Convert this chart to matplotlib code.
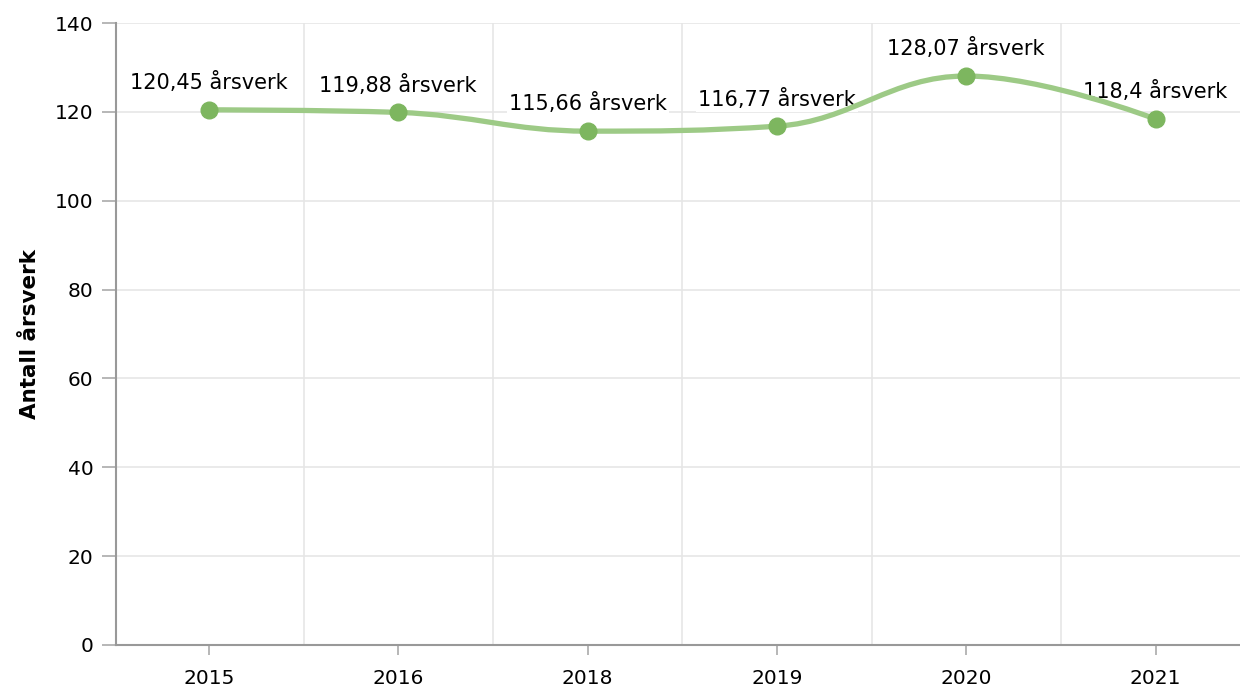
import numpy as np
import matplotlib
matplotlib.use("Agg")
import matplotlib.pyplot as plt
from matplotlib.path import Path
from matplotlib.patches import PathPatch

years = ["2015", "2016", "2018", "2019", "2020", "2021"]
arsverk = [120.45, 119.88, 115.66, 116.77, 128.07, 118.4]
labels = ["120,45 årsverk", "119,88 årsverk", "115,66 årsverk",
          "116,77 årsverk", "128,07 årsverk", "118,4 årsverk"]
yticks = [0, 20, 40, 60, 80, 100, 120, 140]

line_col = "#9dca86"
dot_col = "#7db65f"
grid_col = "#e6e6e6"
axis_col = "#999999"


def spline_path(xs, ys, smoothing=1.5):
    # highcharts-style spline: bezier control points per point
    n = len(xs)
    left = [None] * n
    right = [None] * n
    d = smoothing + 1
    for i in range(1, n - 1):
        px, py = xs[i], ys[i]
        lx, ly = xs[i - 1], ys[i - 1]
        nx, ny = xs[i + 1], ys[i + 1]
        lcx = (smoothing * px + lx) / d
        lcy = (smoothing * py + ly) / d
        rcx = (smoothing * px + nx) / d
        rcy = (smoothing * py + ny) / d
        if rcx != lcx:
            corr = (rcy - lcy) * (rcx - px) / (rcx - lcx) + py - rcy
            lcy += corr
            rcy += corr
        if lcy > max(ly, py):
            lcy = max(ly, py)
            rcy = 2 * py - lcy
        elif lcy < min(ly, py):
            lcy = min(ly, py)
            rcy = 2 * py - lcy
        if rcy > max(py, ny):
            rcy = max(py, ny)
            lcy = 2 * py - rcy
        elif rcy < min(py, ny):
            rcy = min(py, ny)
            lcy = 2 * py - rcy
        left[i] = (lcx, lcy)
        right[i] = (rcx, rcy)
    verts = [(xs[0], ys[0])]
    codes = [Path.MOVETO]
    for i in range(1, n):
        c1 = right[i - 1] if right[i - 1] else (xs[i - 1], ys[i - 1])
        c2 = left[i] if left[i] else (xs[i], ys[i])
        verts += [c1, c2, (xs[i], ys[i])]
        codes += [Path.CURVE4] * 3
    return Path(verts, codes)


fig = plt.figure(figsize=(12.4, 6.93), dpi=100)
ax = fig.add_axes([0.0935, 0.0693, 0.9065, 0.8975])

x = np.arange(len(years))

ax.set_yticks(yticks)
ax.set_xticks(x)
ax.set_xticklabels(years)
ax.set_xticks(np.arange(0.5, len(years), 1.0), minor=True)
ax.set_xlim(-0.491, 5.446)
ax.set_ylim(0, 140)
ax.tick_params(axis="x", which="minor", length=0)
ax.tick_params(axis="x", which="major", length=7, width=1.2, color="#aaaaaa",
               labelsize=14.5, pad=10)
ax.tick_params(axis="y", length=10, width=1.2, color="#aaaaaa",
               labelsize=14.5, pad=6)

ax.grid(axis="y", color=grid_col, linewidth=1.2)
ax.grid(axis="x", which="minor", color=grid_col, linewidth=1.2)
ax.set_axisbelow(True)

for s in ["top", "right"]:
    ax.spines[s].set_visible(False)
for s in ["left", "bottom"]:
    ax.spines[s].set_color(axis_col)
    ax.spines[s].set_linewidth(1.5)

ax.set_ylabel("Antall årsverk", fontsize=15.5, fontweight="bold", labelpad=11)

path = spline_path(list(x), arsverk)
ax.add_patch(PathPatch(path, facecolor="none", edgecolor=line_col,
                       linewidth=3.8, zorder=3, capstyle="round"))
ax.plot(x, arsverk, "o", color=dot_col, markersize=12, zorder=4)

for xi, yi, lab in zip(x, arsverk, labels):
    ax.annotate(lab, (xi, yi), xytext=(0, 12), textcoords="offset points",
                ha="center", va="bottom", fontsize=15, zorder=2.5,
                bbox=dict(facecolor="white", edgecolor="none", pad=1.5))

fig.savefig("out.png", dpi=100)
